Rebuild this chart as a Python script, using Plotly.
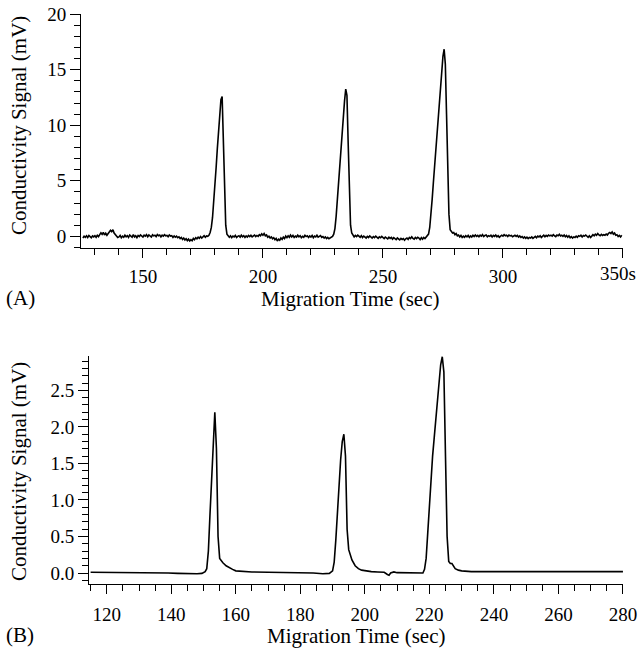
import plotly.graph_objects as go

# ---------------- Panel A data (0.5 s sampling from 125 s) ----------------
a_start = 125.0
a_step = 0.5
a_signal = [
    # 125.0 - 174.5
    -0.15, 0.02, -0.08, 0.05, -0.1, 0.08, -0.02, -0.12, 0.04, -0.05,
    0.06, -0.08, 0.1, -0.02, 0.15, 0.32, 0.18, 0.35, 0.12, 0.28,
    0.1, 0.25, 0.38, 0.55, 0.42, 0.6, 0.3, 0.18, 0.05, -0.1,
    -0.05, 0.08, -0.12, 0.02, -0.08, 0.1, -0.04, 0.06, -0.1, 0.12,
    0.02, -0.08, 0.15, -0.05, 0.05, -0.12, 0.08, -0.02, 0.12, 0.0,
    -0.06, 0.1, 0.02, 0.15, -0.04, 0.12, 0.05, -0.06, 0.14, 0.04,
    0.1, -0.02, 0.16, 0.06, 0.12, -0.05, 0.1, 0.02, 0.15, 0.05,
    0.08, -0.04, 0.12, 0.02, 0.06, -0.1, 0.04, -0.08, 0.02, -0.12,
    -0.05, -0.2, -0.1, -0.28, -0.15, -0.32, -0.22, -0.38, -0.25, -0.42,
    -0.3, -0.4, -0.18, -0.3, -0.12, -0.22, -0.08, -0.18, -0.02, -0.15,
    # 175.0 - 176.5
    -0.05, 0.06, -0.08, 0.04,
    # 177.0 - 185.5 (peak 1)
    0.0, 0.1, 0.35, 0.8, 1.7, 3.0, 4.6, 6.2, 7.9, 9.5, 11.1, 12.3, 12.6, 9.0, 4.5, 1.0, 0.2, 0.0,
    # 186.0 - 189.5
    -0.08, 0.05, -0.12, 0.02, -0.06, 0.08, -0.1, 0.0,
    # 190.0 - 224.5
    0.05, -0.08, 0.1, -0.04, 0.06, -0.1, 0.04, -0.06, 0.08, -0.02,
    0.1, -0.05, 0.06, 0.12, -0.02, 0.08, 0.0, 0.15, 0.05, 0.22,
    0.1, 0.25, 0.05, 0.12, -0.08, 0.02, -0.15, -0.05, -0.22, -0.12,
    -0.3, -0.18, -0.42, -0.25, -0.35, -0.15, -0.28, -0.08, -0.2, 0.02,
    -0.12, 0.05, -0.08, 0.12, -0.05, 0.08, -0.1, 0.02, -0.06, 0.1,
    -0.04, 0.06, -0.12, 0.0, -0.08, 0.1, -0.02, 0.05, -0.1, 0.04,
    -0.06, 0.08, -0.12, 0.02, -0.05, 0.1, -0.08, 0.0, 0.06, -0.1,
    # 225.0 - 228.5
    -0.02, -0.15, -0.05, -0.2, -0.1, -0.22, -0.12, -0.05,
    # 229.0 - 237.5 (peak 2)
    0.0, 0.2, 0.7, 1.8, 3.4, 5.0, 6.6, 8.0, 9.2, 10.6, 12.2, 13.25, 12.7, 8.5, 4.0, 1.0, 0.3, 0.1,
    # 238.0 - 239.5
    -0.05, 0.08, -0.02, 0.1,
    # 240.0 - 264.5
    0.0, -0.08, 0.06, -0.12, 0.02, -0.05, -0.15, 0.0, -0.1, 0.04,
    -0.08, -0.15, -0.02, -0.12, 0.02, -0.1, -0.18, -0.05, -0.12, 0.0,
    -0.1, -0.2, -0.06, -0.15, -0.22, -0.08, -0.18, -0.1, -0.25, -0.12,
    -0.2, -0.3, -0.15, -0.25, -0.32, -0.18, -0.28, -0.2, -0.35, -0.22,
    -0.15, -0.28, -0.1, -0.2, -0.05, -0.18, -0.25, -0.1, -0.2, -0.08,
    # 265.0 - 268.5
    -0.15, -0.3, -0.12, -0.25, -0.1, -0.2, -0.05, 0.0,
    # 269.0 - 279.0 (peak 3)
    0.2, 0.8, 1.9, 3.3, 4.8, 6.3, 7.8, 9.3, 10.6, 11.9, 13.3, 14.8, 16.2, 16.85, 15.5, 11.0, 6.0, 2.0, 0.6, 0.45, 0.3,
    # 279.5 - 284.5
    0.35, 0.15, 0.25, 0.05, 0.12, -0.05, 0.08, -0.1, 0.02, -0.08, 0.05,
    # 285.0 - 349.5
    -0.05, 0.08, -0.1, 0.04, -0.06, 0.1, -0.02, 0.12, 0.0, 0.08,
    -0.04, 0.1, 0.02, 0.15, -0.02, 0.08, 0.12, -0.04, 0.06, 0.0,
    0.1, -0.05, 0.08, 0.0, 0.12, -0.04, 0.06, -0.08, 0.04, 0.1,
    0.02, 0.15, 0.05, 0.1, -0.02, 0.12, 0.04, 0.08, -0.04, 0.06,
    0.1, 0.0, 0.08, -0.06, 0.04, -0.1, -0.02, -0.15, -0.05, -0.18,
    -0.08, -0.2, -0.1, -0.15, -0.05, -0.18, -0.08, 0.0, -0.12, 0.02,
    -0.06, 0.05, -0.1, 0.02, 0.1, -0.04, 0.08, 0.0, 0.12, 0.04,
    0.1, 0.02, 0.15, 0.05, -0.02, 0.12, 0.06, 0.18, 0.04, 0.1,
    0.0, 0.12, -0.04, 0.08, -0.08, 0.05, -0.12, -0.02, -0.15, -0.05,
    -0.1, 0.02, -0.08, 0.06, 0.0, 0.1, -0.05, 0.08, 0.02, 0.12,
    0.0, -0.08, 0.05, -0.1, 0.02, 0.15, 0.05, 0.2, 0.1, 0.25,
    0.12, 0.05, 0.18, 0.08, 0.15, 0.1, 0.2, 0.12, 0.28, 0.35,
    0.25, 0.4, 0.2, 0.3, 0.1, 0.15, -0.02, 0.08, -0.05, 0.1,
]
a_time = [a_start + a_step * i for i in range(len(a_signal))]

# ---------------- Panel B data ----------------
b_time = [
    115, 118, 121, 124, 127, 130, 133, 136, 139, 142, 145, 148, 149.5, 150.5,
    151, 151.5, 152, 152.5, 153, 153.5, 154, 154.5, 155, 155.5, 156, 157, 158, 159, 160,
    162, 165, 170, 175, 180, 184, 187, 189, 190,
    190.5, 191, 191.5, 192, 192.5, 193, 193.5, 194, 194.5, 195, 195.5, 196, 197, 198, 199, 200,
    202, 204, 206, 207, 207.5, 208, 209, 210, 213, 216, 218,
    218.5, 219, 219.5, 220, 220.5, 221, 221.5, 222, 222.5, 223, 223.5, 224, 224.5, 225, 225.5,
    226, 226.5, 227, 227.5, 228, 229, 230, 233, 236, 240, 245, 250, 255, 260, 265, 270, 275, 280,
]
b_signal = [
    0.01, 0.01, 0.005, 0.01, 0.01, 0.005, 0.01, 0.005, 0.0, -0.005, -0.01, -0.01, -0.005, 0.02,
    0.06, 0.3, 0.8, 1.35, 1.85, 2.2, 1.7, 0.5, 0.2, 0.17, 0.14, 0.1, 0.07, 0.05, 0.03,
    0.02, 0.015, 0.01, 0.01, 0.005, 0.0, -0.01, -0.005, 0.03,
    0.15, 0.45, 0.85, 1.25, 1.55, 1.8, 1.9, 1.6, 0.6, 0.32, 0.25, 0.18, 0.1, 0.06, 0.04, 0.03,
    0.02, 0.015, 0.01, -0.02, -0.03, 0.0, 0.015, 0.005, 0.0, -0.005, 0.0,
    0.05, 0.2, 0.55, 0.95, 1.3, 1.6, 1.85, 2.1, 2.35, 2.6, 2.85, 2.96, 2.75, 1.6, 0.5,
    0.16, 0.13, 0.13, 0.09, 0.06, 0.04, 0.03, 0.02, 0.02, 0.02, 0.02, 0.02, 0.02, 0.02, 0.025, 0.02, 0.02, 0.02,
]

a_xticks = [150, 200, 250, 300, 350]
a_xticktext = ["150", "200", "250", "300", ""]
a_last_label = "350s"
a_yticks = [0, 5, 10, 15, 20]
b_xticks = [120, 140, 160, 180, 200, 220, 240, 260, 280]
b_yticks = [0.0, 0.5, 1.0, 1.5, 2.0, 2.5]
b_yticktext = ["0.0", "0.5", "1.0", "1.5", "2.0", "2.5"]

x_title = "Migration Time (sec)"
y_title = "Conductivity Signal (mV)"
panel_labels = ["(A)", "(B)"]

W, H = 639, 649
FONT = "Liberation Serif"


def px_x(p):
    return p / W


def px_y(p):
    return 1 - p / H


fig = go.Figure()
fig.add_trace(go.Scatter(x=a_time, y=a_signal, mode="lines",
                         line=dict(color="black", width=1.6),
                         xaxis="x", yaxis="y", showlegend=False, hoverinfo="skip"))
fig.add_trace(go.Scatter(x=b_time, y=b_signal, mode="lines",
                         line=dict(color="black", width=1.6),
                         xaxis="x2", yaxis="y2", showlegend=False, hoverinfo="skip"))

tickfont = dict(family=FONT, size=19, color="black")
common = dict(showgrid=False, zeroline=False, showline=True, linecolor="black",
              linewidth=1, ticks="outside", tickcolor="black", tickwidth=1,
              tickfont=tickfont, automargin=False)

fig.update_layout(
    width=W, height=H,
    margin=dict(l=0, r=0, t=0, b=0),
    paper_bgcolor="white", plot_bgcolor="white",
    xaxis=dict(domain=[px_x(81), px_x(623)], range=[124.2, 350.02], anchor="y",
               tickvals=a_xticks, ticktext=a_xticktext, ticklen=9, ticklabelstandoff=2,
               minor=dict(dtick=10, tick0=0, ticklen=6, ticks="outside", tickcolor="black"),
               **common),
    yaxis=dict(domain=[px_y(248), px_y(14)], range=[-1.05, 20.02], anchor="x",
               tickvals=a_yticks, ticklen=10,
               minor=dict(dtick=1, tick0=0, ticklen=6, ticks="outside", tickcolor="black"),
               **common),
    xaxis2=dict(domain=[px_x(89), px_x(623)], range=[114.5, 280.02], anchor="y2",
                tickvals=b_xticks, ticklen=9, ticklabelstandoff=4,
                minor=dict(dtick=5, tick0=0, ticklen=6, ticks="outside", tickcolor="black"),
                **common),
    yaxis2=dict(domain=[px_y(584), px_y(356)], range=[-0.15, 2.97], anchor="x2",
                tickvals=b_yticks, ticktext=b_yticktext, ticklen=10,
                minor=dict(dtick=0.1, tick0=0, ticklen=6, ticks="outside", tickcolor="black"),
                **common),
)

lab_font = dict(family=FONT, size=21, color="black")
annotations = [
    dict(text=x_title, x=px_x(350), y=px_y(299), xref="paper", yref="paper",
         showarrow=False, font=lab_font, xanchor="center", yanchor="middle"),
    dict(text=x_title, x=px_x(356), y=px_y(636), xref="paper", yref="paper",
         showarrow=False, font=lab_font, xanchor="center", yanchor="middle"),
    dict(text=y_title, x=px_x(19), y=px_y(126), xref="paper", yref="paper",
         showarrow=False, font=lab_font, textangle=-90, xanchor="center", yanchor="middle"),
    dict(text=y_title, x=px_x(19), y=px_y(472), xref="paper", yref="paper",
         showarrow=False, font=lab_font, textangle=-90, xanchor="center", yanchor="middle"),
    dict(text=panel_labels[0], x=px_x(20), y=px_y(298), xref="paper", yref="paper",
         showarrow=False, font=lab_font, xanchor="center", yanchor="middle"),
    dict(text=panel_labels[1], x=px_x(20), y=px_y(635), xref="paper", yref="paper",
         showarrow=False, font=lab_font, xanchor="center", yanchor="middle"),
    dict(text=a_last_label, x=px_x(637), y=px_y(273), xref="paper", yref="paper",
         showarrow=False, font=tickfont, xanchor="right", yanchor="middle",
         borderpad=0),
]
fig.update_layout(annotations=annotations)

fig.write_html("out.html", config={"displayModeBar": False},
               post_script="document.body.style.margin='0';document.body.style.overflow='hidden';")
